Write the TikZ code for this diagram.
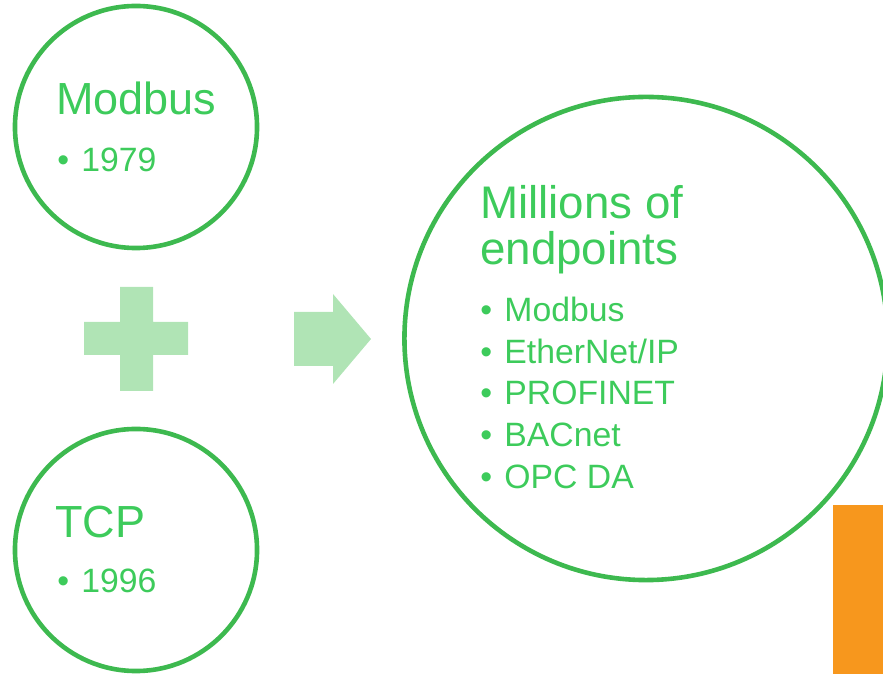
\documentclass[tikz,border=0pt]{standalone}
\usepackage{fontspec}
\setmainfont{Liberation Sans}
\usetikzlibrary{positioning}
\definecolor{ringgreen}{HTML}{3DB94F}
\definecolor{textgreen}{HTML}{3DCB5B}
\definecolor{signgreen}{HTML}{B0E4B5}
\definecolor{barorange}{HTML}{F7971D}
\tikzset{
	ring/.style={circle, draw=ringgreen, line width=0.115cm, inner sep=0pt},
	title/.style={anchor=base west, inner sep=0pt, text=textgreen, font=\fontsize{32}{38}\selectfont},
	item/.style={anchor=base west, inner sep=0pt, text=textgreen, font=\fontsize{24}{29}\selectfont},
	sign/.style={fill=signgreen, draw=none},
}
\newcommand{\bul}{\makebox[17.2pt][l]{•}}

\begin{document}
\begin{tikzpicture}[x=0.025cm, y=-0.025cm]
	\useasboundingbox (0,0) rectangle (883,674);
	\node[ring, minimum size=6.05cm] (modbus) at (136,127) {};
	\node[ring, minimum size=6.05cm] (tcp) at (136,550) {};
	\node[ring, minimum size=12.075cm] (endpoints) at (646,338.5) {};

	\node[title] (modbustitle) at (56,115) {Modbus};
	\node[item] (modbusyear) at (57,172) {\bul 1979};
	\node[title] (tcptitle) at (55,538) {TCP};
	\node[item] (tcpyear) at (57,593) {\bul 1996};

	\node[title, font=\fontsize{32.5}{38}\selectfont] (endtitle) at (480,219) {Millions of};
	\node[title, font=\fontsize{32.5}{38}\selectfont] (endtitleb) at (480,265) {endpoints};
	\node[item] (itma) at (480,322) {\bul Modbus};
	\node[item] (itmb) at (480,364) {\bul EtherNet/IP};
	\node[item] (itmc) at (480,405) {\bul PROFINET};
	\node[item] (itmd) at (480,447) {\bul BACnet};
	\node[item] (itme) at (480,489) {\bul OPC DA};

	\fill[sign] (120,287) -- (153,287) -- (153,322) -- (188,322) -- (188,355) -- (153,355)
		-- (153,391) -- (120,391) -- (120,355) -- (84,355) -- (84,322) -- (120,322) -- cycle;
	\fill[sign] (294,312) -- (333,312) -- (333,294) -- (371,339) -- (333,384) -- (333,366)
		-- (294,366) -- cycle;
	\fill[barorange] (833,505) rectangle (883,674);
\end{tikzpicture}
\end{document}
